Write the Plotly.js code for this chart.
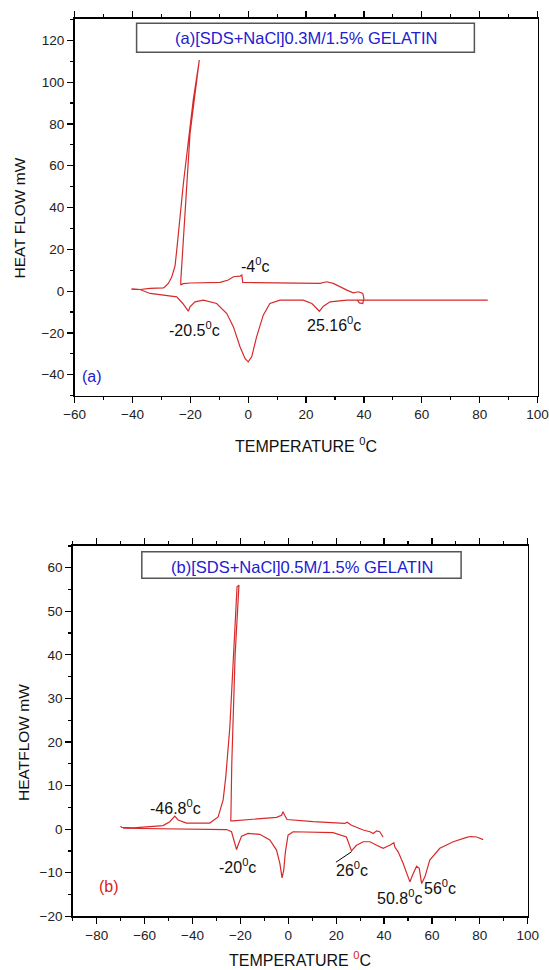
<!DOCTYPE html>
<html>
<head>
<meta charset="utf-8">
<script src="https://cdn.plot.ly/plotly-3.0.1.min.js"></script>
<style>html,body{margin:0;padding:0;background:#fff;}#chart{width:549px;height:970px;}</style>
</head>
<body>
<div id="chart"></div>
<script>
// ---- Panel (a): 0.3M ----
const coolA_x = [-40.3, -37.4, -33.9, -29.3, -28.75, -27.6, -26.4, -25.3, -24.7, -22.4, -19.0, -16.9, -20.1, -21.25, -22.4, -23.3, -23.3, -22.5, -20.0, -9.7, -6.9, -5.1, -2.8, -2.2, -1.9, 11.0, 24.8, 27.1, 29.4, 34.1, 36.3, 38.1, 39.6, 40.0, 39.6, 38.4, 37.7];
const coolA_y = [1.0, 0.8, 1.3, 1.6, 2.1, 3.7, 6.9, 12.0, 19.6, 51.6, 91.4, 110.6, 75.5, 51.6, 27.6, 5.0, 2.9, 3.6, 3.9, 4.2, 5.3, 6.9, 7.2, 7.7, 4.2, 3.8, 3.7, 4.5, 3.7, 0.5, -0.8, -0.3, -1.1, -3.5, -5.9, -5.6, -4.3];
const heatA_x = [-40.3, -37.4, -33.9, -30.5, -24.7, -22.6, -21.0, -20.7, -20.1, -18.4, -15.5, -10.9, -7.4, -5.1, -2.8, -1.1, 0.0, 1.2, 2.9, 5.2, 7.5, 11.0, 19.0, 22.0, 24.6, 26.0, 28.3, 34.1, 37.7, 40.0, 50.0, 59.4, 70.0, 82.8];
const heatA_y = [1.0, 0.8, -1.1, -1.6, -2.7, -5.9, -9.1, -9.6, -7.5, -5.1, -4.3, -5.9, -10.7, -17.1, -26.7, -32.2, -33.8, -31.4, -21.9, -11.5, -5.9, -4.3, -4.3, -5.9, -9.6, -7.2, -5.1, -4.3, -4.3, -4.3, -4.3, -4.6, -4.4, -4.3];

// ---- Panel (b): 0.5M ----
const coolB_x = [-70.1, -69.5, -64.8, -52.3, -49.5, -47.4, -46.0, -42.5, -32.8, -29.3, -27.2, -26.1, -24.4, -23.1, -21.4, -20.6, -22.2, -23.6, -24.0, -23.1, -10.5, -4.9, -2.8, -2.2, -1.5, -0.5, 10.4, 23.6, 24.6, 26.4, 31.3, 34.1, 35.5, 36.9, 38.2, 39.6];
const coolB_y = [0.7, 0.4, 0.3, 0.8, 1.7, 3.0, 2.1, 1.4, 1.4, 2.8, 6.7, 12.0, 23.5, 38.8, 55.6, 56.0, 40.0, 15.0, 1.9, 1.9, 2.5, 2.7, 3.2, 4.0, 3.2, 2.2, 1.7, 1.3, 1.6, 0.9, -0.2, -0.6, -1.0, -0.4, -0.6, -1.8];
const heatB_x = [-69.0, -50.0, -30.0, -25.8, -23.7, -23.0, -21.6, -21.0, -19.5, -16.8, -11.9, -7.7, -4.9, -3.5, -2.6, -1.9, -1.2, -0.1, 2.0, 18.7, 24.3, 26.4, 28.5, 31.3, 34.1, 36.9, 39.6, 42.4, 44.1, 44.5, 45.9, 48.0, 49.4, 50.8, 52.2, 53.6, 54.7, 55.7, 57.1, 59.1, 63.3, 68.9, 74.5, 76.0, 78.7, 80.0, 81.4];
const heatB_y = [0.2, 0.1, 0.0, -0.1, -0.6, -2.1, -4.7, -3.7, -1.6, -1.0, -1.2, -2.5, -4.8, -7.9, -11.2, -9.4, -5.2, -1.4, -0.6, -0.8, -1.8, -5.0, -3.7, -2.9, -2.9, -3.7, -4.4, -3.7, -3.1, -4.1, -5.2, -7.9, -10.2, -12.1, -10.2, -8.5, -9.0, -12.5, -10.9, -7.1, -4.4, -2.9, -1.9, -1.7, -1.8, -2.1, -2.4];

// peak labels
const peakA_text = ["-4<sup>0</sup>c", "-20.5<sup>0</sup>c", "25.16<sup>0</sup>c"];
const peakA_x = [2.5, -18.5, 29.8];
const peakA_y = [12.4, -18.2, -15.8];
const peakB_text = ["-46.8<sup>0</sup>c", "-20<sup>0</sup>c", "26<sup>0</sup>c", "50.8<sup>0</sup>c", "56<sup>0</sup>c"];
const peakB_x = [-47.0, -21.2, 26.5, 46.5, 63.3];
const peakB_y = [5.1, -8.5, -9.2, -15.5, -13.2];

const RED = '#d62a2a';
const FONT = 'Liberation Sans, Arial, sans-serif';
const line = {color: RED, width: 1.2};

const traces = [
  {x: coolA_x, y: coolA_y, xaxis: 'x', yaxis: 'y', mode: 'lines', line: line},
  {x: heatA_x, y: heatA_y, xaxis: 'x', yaxis: 'y', mode: 'lines', line: line},
  {x: coolB_x, y: coolB_y, xaxis: 'x2', yaxis: 'y2', mode: 'lines', line: line},
  {x: heatB_x, y: heatB_y, xaxis: 'x2', yaxis: 'y2', mode: 'lines', line: line}
];

function xax(domain, range, anchor) {
  return {domain: domain, range: range, anchor: anchor, dtick: 20, tick0: 0,
    ticks: 'outside', ticklen: 6, tickwidth: 1.2, tickcolor: '#000',
    minor: {dtick: 10, ticks: 'outside', ticklen: 3, tickwidth: 1.2, tickcolor: '#000'},
    showline: true, linewidth: 1.6, linecolor: '#000', mirror: 'ticks',
    showgrid: false, zeroline: false, fixedrange: true,
    tickfont: {family: FONT, size: 13.5, color: '#222'}};
}
function yax(domain, range, anchor, dt) {
  return {domain: domain, range: range, anchor: anchor, dtick: dt, tick0: 0,
    ticks: 'outside', ticklen: 6, tickwidth: 1.2, tickcolor: '#000',
    minor: {dtick: dt / 2, ticks: 'outside', ticklen: 3, tickwidth: 1.2, tickcolor: '#000'},
    showline: true, linewidth: 1.6, linecolor: '#000', mirror: true,
    showgrid: false, zeroline: false, fixedrange: true,
    tickfont: {family: FONT, size: 13.5, color: '#222'}};
}

function ann(o) { return Object.assign({showarrow: false, xanchor: 'center', yanchor: 'middle'}, o); }

const annotations = [];
peakA_text.forEach((t, i) => annotations.push(ann({x: peakA_x[i], y: peakA_y[i], xref: 'x', yref: 'y', text: t, font: {family: FONT, size: 16, color: '#111'}})));
peakB_text.forEach((t, i) => annotations.push(ann({x: peakB_x[i], y: peakB_y[i], xref: 'x2', yref: 'y2', text: t, font: {family: FONT, size: 16, color: '#111'}})));
annotations.push(
  ann({x: -54.1, y: -41, xref: 'x', yref: 'y', text: '(a)', font: {family: FONT, size: 16, color: '#2020d0'}}),
  ann({x: -74.7, y: -13.2, xref: 'x2', yref: 'y2', text: '(b)', font: {family: FONT, size: 16, color: '#dd1a1a'}}),
  ann({x: 0.5574, y: 0.9608, xref: 'paper', yref: 'paper', text: '(a)[SDS+NaCl]0.3M/1.5% GELATIN', font: {family: FONT, size: 16.5, color: '#2020d0'}}),
  ann({x: 0.5494, y: 0.4158, xref: 'paper', yref: 'paper', text: '(b)[SDS+NaCl]0.5M/1.5% GELATIN', font: {family: FONT, size: 16.5, color: '#2020d0'}}),
  ann({x: 0.557, y: 0.5412, xref: 'paper', yref: 'paper', text: 'TEMPERATURE <sup>0</sup>C', font: {family: FONT, size: 16, color: '#111'}}),
  ann({x: 0.5465, y: 0.0112, xref: 'paper', yref: 'paper', text: 'TEMPERATURE <sup><span style="color:#dd1a1a">0</span></sup>C', font: {family: FONT, size: 16, color: '#111'}}),
  ann({x: 20 / 549, y: 0.7747, xref: 'paper', yref: 'paper', text: 'HEAT FLOW mW', textangle: -90, font: {family: FONT, size: 15.5, color: '#111'}}),
  ann({x: 23 / 549, y: 0.234, xref: 'paper', yref: 'paper', text: 'HEATFLOW mW', textangle: -90, font: {family: FONT, size: 15.5, color: '#111'}})
);

const shapes = [
  {type: 'rect', xref: 'paper', yref: 'paper', x0: 0.2488, x1: 0.8641, y0: 0.9461, y1: 0.9760, line: {color: '#555', width: 1.5}, fillcolor: 'rgba(255,255,255,0)', layer: 'above'},
  {type: 'rect', xref: 'paper', yref: 'paper', x0: 0.2583, x1: 0.8399, y0: 0.4038, y1: 0.4312, line: {color: '#555', width: 1.5}, fillcolor: 'rgba(255,255,255,0)', layer: 'above'},
  {type: 'line', xref: 'x2', yref: 'y2', x0: 19.9, y0: -7.6, x1: 26.4, y1: -5.2, line: {color: '#000', width: 1}}
];

const layout = {
  width: 549, height: 970,
  margin: {l: 0, r: 0, t: 0, b: 0},
  paper_bgcolor: '#fff', plot_bgcolor: '#fff',
  showlegend: false,
  xaxis: xax([0.1359, 0.9791], [-60, 100], 'y'),
  yaxis: yax([0.5921, 0.9804], [-50, 130.2], 'x', 20),
  xaxis2: xax([0.1326, 0.9612], [-90, 100], 'y2'),
  yaxis2: yax([0.0554, 0.4374], [-20, 65.05], 'x2', 10),
  annotations: annotations,
  shapes: shapes,
  font: {family: FONT}
};

Plotly.newPlot('chart', traces, layout, {displayModeBar: false, staticPlot: true});
</script>
</body>
</html>
